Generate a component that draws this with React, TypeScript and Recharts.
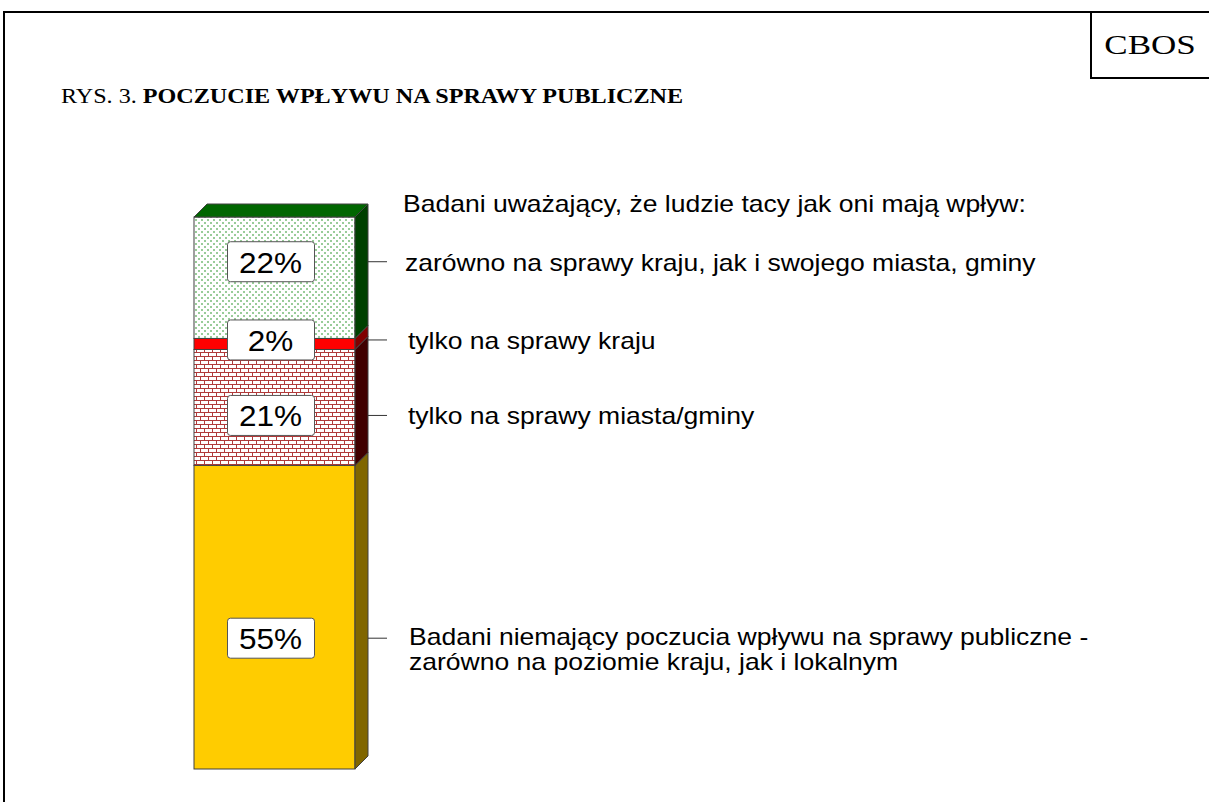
import React from 'react';
import { BarChart, Bar, XAxis, YAxis, LabelList } from 'recharts';

// Values (bottom segment first)
const categories = ['Polska'];
const noInfluence = [55];
const cityOnly = [21];
const countryOnly = [2];
const both = [22];

const legendHeader = 'Badani uważający, że ludzie tacy jak oni mają wpływ:';
const legendLines = [
  'zarówno na sprawy kraju, jak i swojego miasta, gminy',
  'tylko na sprawy kraju',
  'tylko na sprawy miasta/gminy',
];
const noInfluenceText = [
  'Badani niemający poczucia wpływu na sprawy publiczne -',
  'zarówno na poziomie kraju, jak i lokalnym',
];

const data = categories.map((name, i) => ({
  name,
  noInfluence: noInfluence[i],
  cityOnly: cityOnly[i],
  countryOnly: countryOnly[i],
  both: both[i],
}));

const DEPTH = 13;
const SANS = '"Liberation Sans", Arial, sans-serif';
const SERIF = '"Liberation Serif", "Times New Roman", serif';

// vertical nudges of the value boxes, as Excel placed them
const labelNudge = { noInfluence: 21, cityOnly: 8, countryOnly: -4, both: -16 };

// the source scan is a bit wider than tall, so text is stretched sideways
const Stretch: React.FC<{ x: number; y: number; sx: number; children: React.ReactNode }> = ({ x, y, sx, children }) => (
  <g transform={`translate(${x},${y}) scale(${sx},1)`}>{children}</g>
);

const makeShape = (front: string, side: string, top?: string) => (props: any) => {
  const { x, y, width, height } = props;
  const r = x + width;
  return (
    <g>
      <rect x={x} y={y} width={width} height={height} fill={front} stroke="#404040" strokeWidth={1} />
      <polygon
        points={`${r},${y} ${r + DEPTH},${y - DEPTH} ${r + DEPTH},${y + height - DEPTH} ${r},${y + height}`}
        fill={side}
        stroke="#404040"
        strokeWidth={1}
      />
      {top && (
        <polygon
          points={`${x},${y} ${x + DEPTH},${y - DEPTH} ${r + DEPTH},${y - DEPTH} ${r},${y}`}
          fill={top}
          stroke="#404040"
          strokeWidth={1}
        />
      )}
    </g>
  );
};

const makeLabel = (key: keyof typeof labelNudge) => (props: any) => {
  const { x, y, width, height, value } = props;
  const cx = x + width / 2 - 4;
  const cy = y + height / 2 + labelNudge[key];
  return (
    <g>
      <rect x={cx - 43} y={cy - 20} width={87} height={40} rx={3} fill="#fff" stroke="#555" strokeWidth={1} />
      <Stretch x={cx} y={cy + 11} sx={1.05}>
        <text x={0} y={0} textAnchor="middle" fontFamily={SANS} fontSize={30} fill="#000">
          {value}%
        </text>
      </Stretch>
      <line x1={x + width + DEPTH} x2={x + width + DEPTH + 19} y1={cy} y2={cy} stroke="#333" strokeWidth={1} />
    </g>
  );
};

const LEG_SX = 1.105;

const App: React.FC = () => {
  return (
    <div style={{ position: 'relative', width: 1209, height: 802, background: '#fff' }}>
      <style>{'body{margin:0}'}</style>
      <svg width={0} height={0} style={{ position: 'absolute' }}>
        <defs>
          <pattern id="dots" width={6} height={6} patternUnits="userSpaceOnUse">
            <rect width={6} height={6} fill="#fff" />
            <rect x={0} y={0} width={2} height={2} fill="#99cc99" />
            <rect x={3} y={3} width={2} height={2} fill="#99cc99" />
          </pattern>
          <pattern id="brick" width={8} height={8} patternUnits="userSpaceOnUse">
            <rect width={8} height={8} fill="#fff" />
            <rect x={0} y={0} width={8} height={1} fill="#b03a3a" />
            <rect x={0} y={4} width={8} height={1} fill="#b03a3a" />
            <rect x={0} y={0} width={1} height={4} fill="#b03a3a" />
            <rect x={4} y={4} width={1} height={4} fill="#b03a3a" />
          </pattern>
        </defs>
      </svg>

      <BarChart
        width={1209}
        height={802}
        data={data}
        margin={{ top: 217, bottom: 33, left: 194, right: 854 }}
        barCategoryGap={0}
      >
        <XAxis dataKey="name" hide />
        <YAxis hide domain={[0, 100]} />
        <Bar dataKey="noInfluence" stackId="a" isAnimationActive={false} shape={makeShape('#ffcc00', '#806600')}>
          <LabelList dataKey="noInfluence" content={makeLabel('noInfluence')} />
        </Bar>
        <Bar dataKey="cityOnly" stackId="a" isAnimationActive={false} shape={makeShape('url(#brick)', '#400000')}>
          <LabelList dataKey="cityOnly" content={makeLabel('cityOnly')} />
        </Bar>
        <Bar dataKey="countryOnly" stackId="a" isAnimationActive={false} shape={makeShape('#ff0000', '#800000')}>
          <LabelList dataKey="countryOnly" content={makeLabel('countryOnly')} />
        </Bar>
        <Bar dataKey="both" stackId="a" isAnimationActive={false} shape={makeShape('url(#dots)', '#004000', '#006600')}>
          <LabelList dataKey="both" content={makeLabel('both')} />
        </Bar>
      </BarChart>

      {/* frame, title and side texts */}
      <svg width={1209} height={802} style={{ position: 'absolute', left: 0, top: 0, pointerEvents: 'none' }}>
        <line x1={4} y1={11} x2={4} y2={802} stroke="#000" strokeWidth={2} />
        <line x1={3} y1={12} x2={1209} y2={12} stroke="#000" strokeWidth={2} />
        <line x1={1091} y1={12} x2={1091} y2={78} stroke="#000" strokeWidth={2} />
        <line x1={1090} y1={78} x2={1209} y2={78} stroke="#000" strokeWidth={2} />
        <Stretch x={1150} y={54} sx={1.25}>
          <text x={0} y={0} textAnchor="middle" fontFamily={SERIF} fontSize={28}>CBOS</text>
        </Stretch>
        <Stretch x={61} y={103} sx={1.15}>
          <text x={0} y={0} fontFamily={SERIF} fontSize={21}>
            RYS. 3. <tspan fontWeight="bold">POCZUCIE WPŁYWU NA SPRAWY PUBLICZNE</tspan>
          </text>
        </Stretch>

        <g fontFamily={SANS} fontSize={24} fill="#000">
          <Stretch x={403} y={212} sx={LEG_SX}><text>{legendHeader}</text></Stretch>
          <Stretch x={405} y={271} sx={LEG_SX}><text>{legendLines[0]}</text></Stretch>
          <Stretch x={408} y={349} sx={LEG_SX}><text>{legendLines[1]}</text></Stretch>
          <Stretch x={408} y={424} sx={LEG_SX}><text>{legendLines[2]}</text></Stretch>
          <Stretch x={409} y={645} sx={LEG_SX}><text>{noInfluenceText[0]}</text></Stretch>
          <Stretch x={409} y={670} sx={LEG_SX}><text>{noInfluenceText[1]}</text></Stretch>
        </g>
      </svg>
    </div>
  );
};

export default App;
